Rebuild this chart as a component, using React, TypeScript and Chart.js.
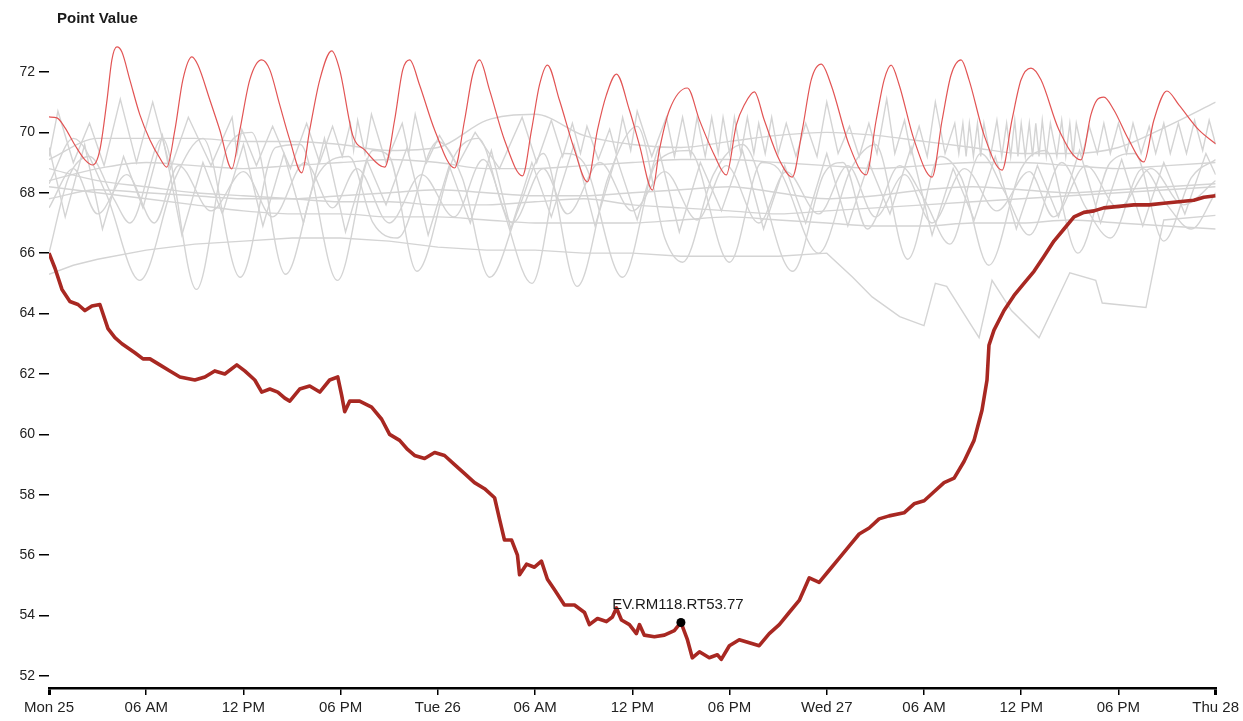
import React, { useEffect, useRef } from "react";
import { Chart, registerables } from "chart.js";

Chart.register(...registerables);

const chartTitle = "Point Value";
const xTickHours = [0, 6, 12, 18, 24, 30, 36, 42, 48, 54, 60, 66, 72];
const xTickLabels = ["Mon 25", "06 AM", "12 PM", "06 PM", "Tue 26", "06 AM", "12 PM", "06 PM", "Wed 27", "06 AM", "12 PM", "06 PM", "Thu 28"];
const yTickValues = [52, 54, 56, 58, 60, 62, 64, 66, 68, 70, 72];

const markerHour = 39;
const markerValue = 53.77;
const markerLabel = "EV.RM118.RT53.77";

// thick dark-red series (hours since Mon 25 00:00, value)
const darkHours = [0, 0.37, 0.8, 1.29, 1.79, 2.22, 2.65, 3.14, 3.64, 4.07, 4.5, 5.3, 5.8, 6.23, 6.84, 7.46, 8.08, 9.0, 9.62, 10.23, 10.85, 11.59, 12.08, 12.7, 13.13, 13.63, 14.12, 14.55, 14.86, 15.47, 16.09, 16.71, 17.32, 17.82, 18.06, 18.25, 18.56, 19.17, 19.91, 20.53, 21.02, 21.64, 22.13, 22.56, 23.18, 23.8, 24.41, 25.03, 25.65, 26.26, 26.88, 27.5, 27.8, 28.11, 28.55, 28.91, 29.04, 29.47, 29.96, 30.39, 30.76, 31.2, 31.81, 32.43, 33.05, 33.35, 33.85, 34.4, 34.77, 35.02, 35.33, 35.82, 36.25, 36.44, 36.74, 37.36, 37.98, 38.59, 39.0, 39.4, 39.7, 40.14, 40.75, 41.25, 41.49, 41.99, 42.6, 43.22, 43.83, 44.45, 45.07, 45.68, 46.3, 46.92, 47.53, 48.15, 48.77, 49.38, 50.0, 50.62, 51.23, 51.85, 52.77, 53.39, 54.01, 54.62, 55.24, 55.86, 56.47, 57.09, 57.58, 57.89, 58.01, 58.32, 58.94, 59.56, 60.17, 60.79, 61.41, 62.02, 62.64, 63.26, 63.87, 64.49, 65.1, 66.03, 66.95, 67.88, 68.8, 69.73, 70.65, 71.27, 72];
const darkValues = [66.0, 65.5, 64.8, 64.4, 64.3, 64.1, 64.25, 64.3, 63.5, 63.2, 63.0, 62.7, 62.5, 62.5, 62.3, 62.1, 61.9, 61.8, 61.9, 62.1, 62.0, 62.3, 62.1, 61.8, 61.4, 61.5, 61.4, 61.2, 61.1, 61.5, 61.6, 61.4, 61.8, 61.9, 61.3, 60.75, 61.1, 61.1, 60.9, 60.5, 60.0, 59.8, 59.5, 59.3, 59.2, 59.4, 59.3, 59.0, 58.7, 58.4, 58.2, 57.9, 57.2, 56.5, 56.5, 56.0, 55.35, 55.7, 55.6, 55.8, 55.2, 54.85, 54.35, 54.35, 54.1, 53.7, 53.9, 53.8, 53.95, 54.25, 53.85, 53.7, 53.4, 53.7, 53.35, 53.3, 53.35, 53.5, 53.77, 53.2, 52.6, 52.8, 52.6, 52.7, 52.55, 53.0, 53.2, 53.1, 53.0, 53.4, 53.7, 54.1, 54.5, 55.25, 55.1, 55.5, 55.9, 56.3, 56.7, 56.9, 57.2, 57.3, 57.4, 57.7, 57.8, 58.1, 58.4, 58.55, 59.1, 59.8, 60.8, 61.8, 62.95, 63.45, 64.1, 64.6, 65.0, 65.4, 65.9, 66.4, 66.8, 67.2, 67.35, 67.4, 67.5, 67.55, 67.6, 67.6, 67.65, 67.7, 67.75, 67.85, 67.9];

// thin red oscillating series
const redHours = [0, 0.49, 0.99, 1.6, 2.22, 2.71, 3.14, 3.58, 3.88, 4.19, 4.5, 4.99, 5.61, 6.23, 6.84, 7.27, 7.77, 8.26, 8.82, 9.19, 9.93, 10.54, 11.28, 11.78, 12.39, 13.13, 13.63, 14.24, 14.86, 15.6, 16.09, 16.71, 17.45, 17.94, 18.74, 19.48, 20.72, 21.33, 21.83, 22.26, 22.87, 23.8, 25.03, 25.65, 26.14, 26.57, 27.19, 28.11, 29.22, 29.78, 30.27, 30.76, 31.5, 32.43, 33.23, 33.85, 34.4, 35.02, 35.82, 36.44, 37.24, 37.67, 38.29, 39.4, 40.14, 41.06, 41.8, 42.42, 42.91, 43.53, 44.14, 45.07, 45.87, 46.49, 47.04, 47.66, 48.27, 49.38, 50.43, 51.05, 51.54, 51.97, 52.47, 53.39, 54.5, 55.12, 55.67, 56.29, 56.78, 57.71, 58.82, 59.43, 59.99, 60.6, 61.22, 62.33, 63.69, 64.3, 64.67, 65.1, 65.72, 66.64, 67.57, 68.19, 68.99, 69.73, 70.96, 72];
const redValues = [70.51, 70.48, 70.15, 69.58, 69.09, 68.92, 69.42, 71.07, 72.4, 72.83, 72.66, 71.74, 70.58, 69.75, 69.15, 68.85, 70.08, 71.74, 72.5, 72.23, 71.07, 70.08, 68.79, 70.08, 71.74, 72.4, 72.07, 70.91, 69.75, 68.66, 70.08, 71.74, 72.7, 72.07, 69.91, 69.42, 68.85, 70.41, 72.07, 72.4, 71.57, 70.08, 68.82, 70.41, 71.9, 72.4, 71.4, 69.75, 68.56, 70.08, 71.57, 72.23, 71.07, 69.42, 68.36, 70.08, 71.24, 71.93, 70.74, 69.58, 68.09, 69.42, 70.74, 71.47, 70.41, 69.25, 68.59, 70.25, 70.91, 71.34, 70.41, 69.09, 68.52, 70.08, 71.74, 72.26, 71.57, 69.58, 68.59, 70.41, 71.74, 72.23, 71.57, 69.75, 68.52, 70.41, 71.9, 72.4, 71.74, 69.91, 68.75, 70.41, 71.74, 72.13, 71.74, 70.08, 69.09, 70.58, 71.07, 71.17, 70.74, 69.75, 69.02, 70.41, 71.37, 70.91, 70.08, 69.62];

// grey background series: smooth ones sampled every 3 hours
const gridHours = [0, 3, 6, 9, 12, 15, 18, 21, 24, 27, 30, 33, 36, 39, 42, 45, 48, 51, 54, 57, 60, 63, 66, 69, 72];
const grayUpper = [69.1, 69.8, 69.8, 69.8, 69.7, 69.7, 69.6, 69.4, 69.5, 70.4, 70.6, 69.9, 69.6, 69.5, 69.7, 69.9, 70.0, 69.9, 69.7, 69.5, 69.3, 69.3, 69.5, 70.2, 71.0];
const grayMid = [68.4, 68.8, 69.0, 68.9, 68.8, 68.9, 69.0, 69.1, 69.0, 68.8, 68.8, 68.9, 69.0, 69.1, 69.1, 69.0, 68.9, 68.8, 68.9, 69.0, 69.0, 68.9, 68.8, 68.9, 69.0];
const grayLowerA = [68.2, 68.0, 67.8, 67.6, 67.4, 67.3, 67.3, 67.2, 67.2, 67.1, 67.0, 67.0, 67.0, 67.1, 67.2, 67.1, 67.0, 66.9, 66.9, 67.0, 67.0, 67.1, 67.0, 66.9, 66.8];
const grayLowerB = [67.8, 68.1, 68.0, 67.9, 67.8, 67.8, 67.9, 68.0, 68.1, 68.0, 67.9, 67.9, 68.0, 68.1, 68.2, 68.0, 67.8, 67.9, 68.1, 68.2, 68.1, 68.0, 68.1, 68.2, 68.3];
const grayLowerC = [68.8, 68.4, 68.2, 68.0, 67.9, 67.8, 67.7, 67.7, 67.6, 67.6, 67.7, 67.8, 67.6, 67.5, 67.4, 67.3, 67.4, 67.5, 67.6, 67.7, 67.8, 67.9, 68.0, 68.1, 68.2];

const graySpiky: [number, number][] = [[0, 69.2], [0.55, 70.7], [1.5, 69.0], [2.5, 70.3], [3.4, 68.9], [4.4, 71.1], [5.4, 69.0], [6.4, 71.0], [7.5, 68.8], [8.6, 70.5], [10.0, 68.9], [11.3, 70.5], [11.6, 69.3], [11.9, 70.1], [12.8, 68.9], [13.8, 70.2], [14.9, 68.8], [15.9, 70.3], [16.7, 69.0], [17.5, 70.2], [18.1, 69.2], [18.6, 70.3], [18.8, 69.4], [19.05, 70.4], [19.5, 69.3], [19.9, 70.6], [20.8, 69.0], [21.8, 70.3], [22.2, 69.3], [22.6, 70.6], [23.3, 69.0], [24.1, 69.9], [25.2, 68.9], [26.3, 70.0], [27.8, 68.8], [29.2, 70.5], [30.1, 69.0], [31.0, 70.4], [31.7, 69.2], [32.3, 70.3], [32.8, 69.3], [33.2, 70.2], [33.9, 69.1], [34.6, 70.1], [35.0, 69.3], [35.4, 70.5], [35.9, 69.4], [36.3, 70.7], [37.2, 69.2], [38.1, 70.5], [38.6, 69.2], [39.1, 70.5], [39.6, 69.2], [40.0, 70.5], [40.5, 69.2], [40.9, 70.5], [41.3, 69.3], [41.6, 70.5], [42.0, 69.3], [42.3, 70.5], [42.7, 69.3], [43.1, 70.5], [43.5, 69.3], [43.8, 70.3], [44.2, 69.3], [44.6, 70.5], [45.0, 69.3], [45.5, 70.3], [46.1, 69.2], [46.7, 70.3], [47.4, 69.2], [48.0, 71.0], [48.7, 69.3], [49.4, 70.2], [50.0, 69.2], [50.6, 70.3], [51.1, 69.3], [51.7, 71.1], [52.2, 69.3], [52.8, 70.4], [53.2, 69.3], [53.7, 70.2], [54.2, 69.2], [54.7, 71.0], [55.3, 69.3], [55.9, 70.3], [56.15, 69.3], [56.4, 70.3], [56.6, 69.2], [56.8, 70.3], [57.05, 69.2], [57.3, 70.3], [57.5, 69.2], [57.7, 70.3], [58.1, 69.2], [58.5, 70.4], [58.8, 69.2], [59.1, 70.3], [59.35, 69.2], [59.6, 70.4], [59.8, 69.2], [60.0, 70.3], [60.25, 69.2], [60.5, 70.3], [60.7, 69.2], [60.9, 70.3], [61.1, 69.2], [61.3, 70.4], [61.55, 69.2], [61.8, 70.3], [62.2, 69.2], [62.5, 70.4], [62.75, 69.2], [63.0, 70.3], [63.2, 69.2], [63.4, 70.3], [63.8, 69.3], [64.2, 70.2], [64.7, 69.3], [65.1, 70.3], [65.5, 69.3], [66.0, 70.3], [66.5, 69.3], [66.9, 70.3], [67.4, 69.3], [67.9, 70.2], [68.3, 69.3], [68.8, 70.3], [69.2, 69.3], [69.7, 70.3], [70.2, 69.3], [70.7, 70.4], [71.2, 69.4], [71.6, 70.4], [72.0, 69.6]];

const grayWaveA: [number, number][] = [[0, 68.3], [1.5, 69.8], [3.5, 68.0], [5.6, 65.1], [7.8, 68.5], [9.5, 69.8], [11.8, 65.2], [14.0, 69.5], [15.5, 69.6], [17.8, 65.1], [20.0, 69.4], [21.0, 69.2], [22.7, 65.4], [25.0, 69.2], [26.5, 69.8], [28.0, 67.5], [29.8, 65.0], [31.8, 69.3], [33.0, 69.0], [35.4, 65.2], [37.5, 69.0], [39.5, 69.4], [42.0, 65.7], [44.0, 69.0], [45.0, 68.8], [47.5, 66.0], [49.5, 68.8], [51.0, 69.6], [53.0, 65.8], [55.0, 69.2], [56.3, 68.5], [58.0, 65.6], [60.0, 68.8], [61.5, 69.4], [63.5, 66.0], [65.5, 69.0], [67.0, 69.3], [68.8, 66.4], [70.5, 68.5], [72.0, 69.1]];

const grayWaveB: [number, number][] = [[0, 66.0], [1.2, 68.5], [2.5, 69.2], [4.0, 67.8], [5.0, 67.0], [7.0, 69.8], [9.1, 64.8], [11.0, 69.5], [12.5, 70.0], [14.6, 65.3], [16.5, 68.5], [18.5, 69.2], [20.0, 67.0], [21.5, 66.5], [24.0, 69.7], [25.5, 68.5], [27.2, 65.2], [29.0, 67.5], [30.5, 69.3], [32.6, 64.9], [34.5, 68.5], [36.3, 70.2], [38.0, 66.5], [39.1, 65.7], [41.0, 68.6], [42.8, 69.6], [45.9, 65.4], [47.8, 68.6], [49.0, 69.0], [50.5, 66.8], [52.5, 68.9], [54.0, 67.8], [55.6, 66.3], [57.5, 69.3], [59.0, 68.0], [60.5, 66.6], [62.5, 69.0], [64.0, 67.5], [65.5, 66.5], [67.5, 68.8], [69.0, 67.6], [70.5, 66.8], [72.0, 68.0]];

const grayWaveC: [number, number][] = [[0, 67.5], [1.5, 68.8], [3.0, 67.3], [4.8, 68.6], [6.5, 67.0], [8.0, 68.9], [10.0, 67.4], [12.0, 68.7], [13.8, 67.2], [15.8, 69.0], [17.5, 67.5], [19.0, 68.8], [21.0, 67.0], [23.0, 68.6], [25.0, 67.2], [26.8, 69.1], [28.6, 67.0], [30.5, 68.8], [32.0, 67.3], [34.0, 69.0], [36.0, 67.4], [38.0, 68.7], [40.0, 67.1], [41.8, 68.9], [43.8, 67.0], [45.5, 68.7], [47.5, 67.3], [49.3, 68.9], [51.0, 67.2], [52.8, 68.6], [54.5, 67.0], [56.5, 68.8], [58.5, 67.4], [60.5, 68.7], [62.0, 67.2], [64.0, 68.9], [66.0, 67.5], [68.0, 68.8], [70.0, 67.6], [72.0, 68.4]];

const grayWaveD: [number, number][] = [[0, 69.5], [1.0, 67.2], [2.2, 69.6], [3.3, 66.8], [4.6, 69.2], [5.8, 67.5], [7.0, 69.9], [8.2, 66.6], [9.5, 69.0], [10.7, 67.3], [12.0, 69.6], [13.2, 66.9], [14.5, 69.3], [15.7, 67.0], [17.0, 69.8], [18.3, 66.7], [19.6, 69.1], [20.8, 67.6], [22.1, 69.5], [23.4, 66.6], [24.7, 68.9], [26.0, 67.0], [27.3, 69.4], [28.5, 66.8], [29.8, 69.0], [31.0, 67.2], [32.4, 69.6], [33.7, 66.9], [35.0, 69.2], [36.3, 67.1], [37.6, 69.5], [38.9, 66.7], [40.2, 69.0], [41.5, 67.4], [42.8, 69.4], [44.1, 66.8], [45.4, 68.9], [46.7, 67.0], [48.0, 69.3], [49.3, 66.9], [50.6, 69.0], [51.9, 67.3], [53.2, 69.5], [54.5, 66.6], [55.8, 68.8], [57.1, 67.1], [58.4, 69.2], [59.7, 66.8], [61.0, 68.9], [62.3, 67.2], [63.6, 69.4], [64.9, 67.0], [66.2, 69.1], [67.5, 66.9], [68.8, 69.0], [70.1, 67.3], [71.4, 69.3], [72.0, 68.6]];

const grayLowest: [number, number][] = [[0, 65.3], [1.5, 65.6], [3, 65.8], [6, 66.1], [9, 66.3], [12, 66.4], [15, 66.5], [18, 66.5], [21, 66.4], [24, 66.2], [27, 66.1], [30, 66.1], [33, 66.0], [36, 66.0], [39, 65.9], [42, 65.9], [45, 65.9], [48, 66.0], [49.6, 65.2], [50.8, 64.55], [52.5, 63.9], [54.0, 63.6], [54.7, 65.0], [55.4, 64.9], [57.4, 63.2], [58.2, 65.1], [59.4, 64.1], [61.1, 63.2], [63.0, 65.35], [64.6, 65.1], [65.0, 64.35], [67.7, 64.2], [68.5, 66.35], [68.8, 67.1], [72, 67.25]];

const FONT = '"Liberation Sans", Arial, Helvetica, sans-serif';

export default function App() {
  const canvasRef = useRef<HTMLCanvasElement | null>(null);

  useEffect(() => {
    if (!canvasRef.current) return;
    const xy = (hs: number[], vs: number[]) => hs.map((h, i) => ({ x: h, y: vs[i] }));
    const tup = (arr: [number, number][]) => arr.map(([x, y]) => ({ x, y }));
    const GRAY = "rgb(212,212,212)";
    const gray = (data: any[], smooth: boolean) => ({
      data,
      borderColor: GRAY,
      borderWidth: 1.4,
      pointRadius: 0,
      fill: false,
      cubicInterpolationMode: smooth ? "monotone" : "default",
      tension: 0,
    });

    const overlay = {
      id: "textOverlay",
      afterDatasetsDraw(chart: any) {
        const ctx = chart.ctx;
        const p = chart.getDatasetMeta(0).data[0];
        ctx.save();
        ctx.fillStyle = "#1a1a1a";
        ctx.font = `15px ${FONT}`;
        ctx.textAlign = "center";
        ctx.textBaseline = "alphabetic";
        if (p) ctx.fillText(markerLabel, p.x - 3, p.y - 13);
        ctx.font = `bold 15px ${FONT}`;
        ctx.textAlign = "left";
        ctx.fillText(chartTitle, 57, 23);
        ctx.restore();
      },
    };

    const chart = new Chart(canvasRef.current, {
      type: "line",
      data: {
        datasets: [
          {
            data: [{ x: markerHour, y: markerValue }],
            showLine: false,
            pointRadius: 4.5,
            pointBackgroundColor: "#000",
            pointBorderColor: "#000",
            pointBorderWidth: 0,
          } as any,
          {
            data: xy(darkHours, darkValues),
            borderColor: "rgb(168,40,34)",
            borderWidth: 3.6,
            pointRadius: 0,
            tension: 0,
            borderJoinStyle: "round",
          },
          {
            data: xy(redHours, redValues),
            borderColor: "rgb(226,84,84)",
            borderWidth: 1.2,
            pointRadius: 0,
            cubicInterpolationMode: "monotone",
          },
          gray(tup(graySpiky), false),
          gray(tup(grayWaveA), true),
          gray(tup(grayWaveB), true),
          gray(tup(grayWaveC), true),
          gray(tup(grayWaveD), false),
          gray(tup(grayLowest), false),
          gray(xy(gridHours, grayUpper), true),
          gray(xy(gridHours, grayMid), true),
          gray(xy(gridHours, grayLowerA), true),
          gray(xy(gridHours, grayLowerB), true),
          gray(xy(gridHours, grayLowerC), true),
        ] as any,
      },
      options: {
        animation: false,
        responsive: true,
        maintainAspectRatio: false,
        layout: { padding: { top: 30, right: 26, left: 0, bottom: 0 } },
        plugins: {
          legend: { display: false },
          tooltip: { enabled: false },
          title: { display: false },
        },
        scales: {
          x: {
            type: "linear",
            min: 0,
            max: 72,
            afterBuildTicks: (s: any) => {
              s.ticks = xTickHours.map((v) => ({ value: v }));
            },
            afterFit: (s: any) => {
              s.height = 33;
            },
            ticks: {
              autoSkip: false,
              maxRotation: 0,
              minRotation: 0,
              padding: 4,
              color: "#222",
              font: { family: FONT, size: 15 },
              callback: (_v: any, i: number) => xTickLabels[i],
            },
            grid: {
              drawOnChartArea: false,
              drawTicks: true,
              tickLength: 7,
              color: "#000",
              lineWidth: (c: any) => (c.index === 0 || c.index === xTickHours.length - 1 ? 3 : 1.5),
            },
            border: { display: true, color: "#000", width: 2.5 },
          },
          y: {
            type: "linear",
            min: 51.6,
            max: 73.39,
            afterBuildTicks: (s: any) => {
              s.ticks = yTickValues.map((v) => ({ value: v }));
            },
            afterFit: (s: any) => {
              s.width = 49;
            },
            ticks: {
              padding: 4,
              color: "#222",
              font: { family: FONT, size: 14 },
              callback: (v: any) => String(v),
            },
            grid: {
              drawOnChartArea: false,
              drawTicks: true,
              tickLength: 10,
              color: "#000",
              lineWidth: 1.5,
            },
            border: { display: false },
          },
        },
      } as any,
      plugins: [overlay],
    });

    return () => chart.destroy();
  }, []);

  return (
    <div style={{ position: "fixed", left: 0, top: 0, width: 1243, height: 721, background: "#fff" }}>
      <canvas ref={canvasRef} />
    </div>
  );
}
